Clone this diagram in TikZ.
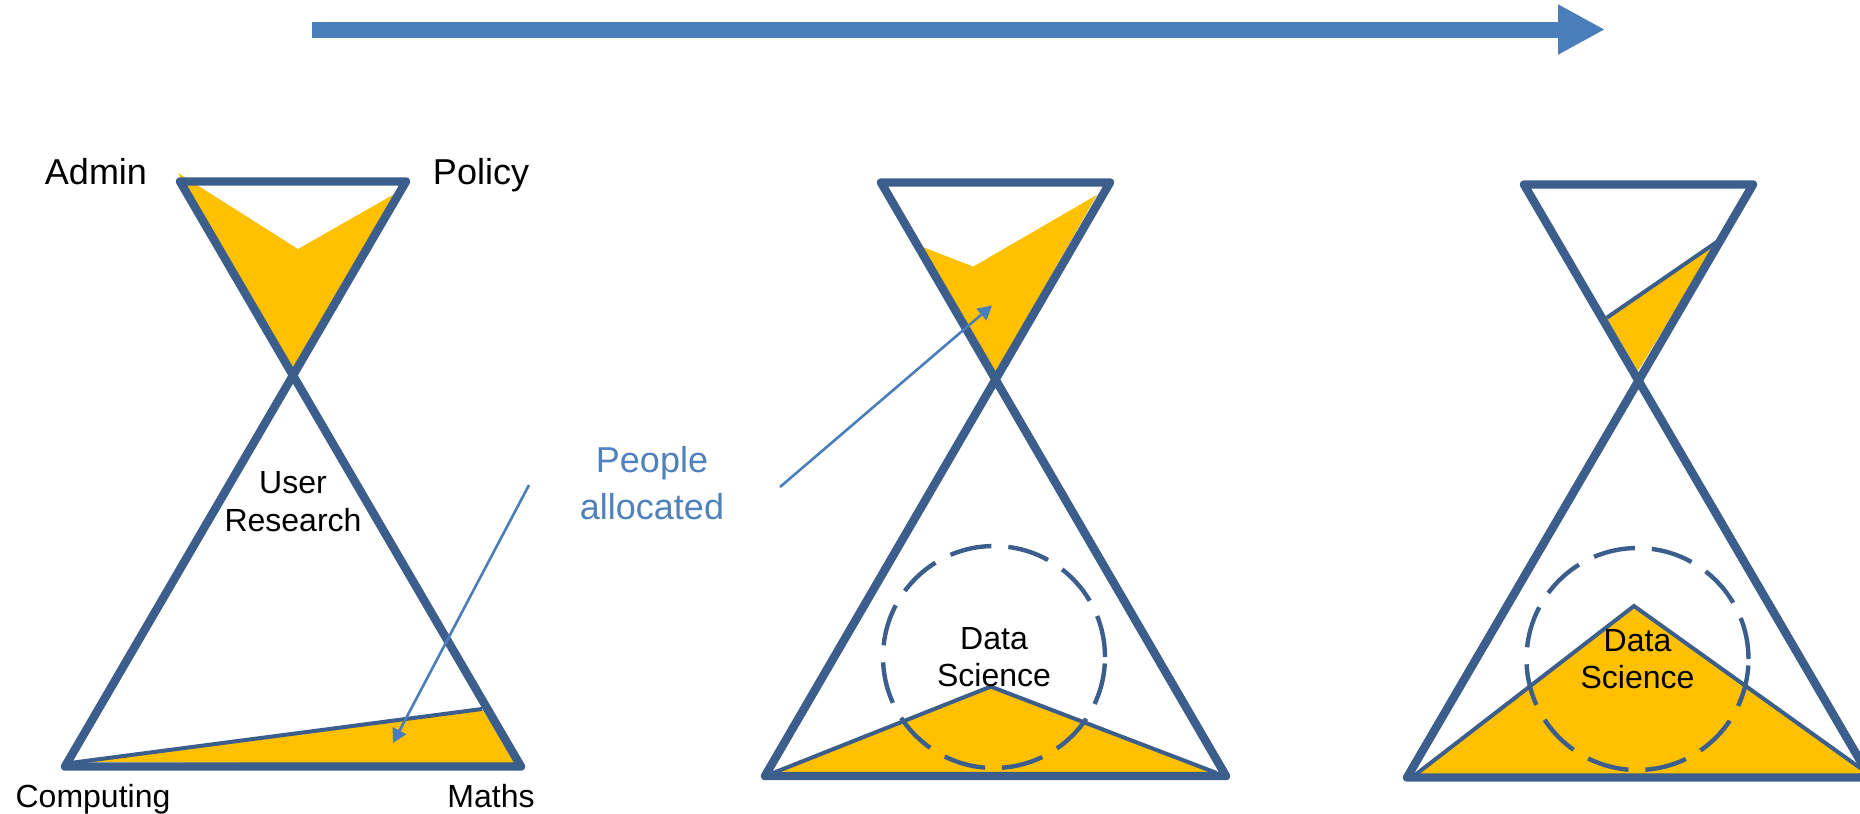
\documentclass[tikz,border=0pt]{standalone}
\usepackage{fontspec}
\setmainfont{Liberation Sans}
\usetikzlibrary{arrows.meta}
\definecolor{glassblue}{RGB}{59,94,140}
\definecolor{arrowblue}{RGB}{74,126,187}
\definecolor{textblue}{RGB}{79,129,189}
\definecolor{sand}{RGB}{255,192,0}
\tikzset{glass/.style={draw=glassblue,line width=4.2pt,line join=round,line cap=round},
	sandfill/.style={fill=sand,draw=none},
	sandline/.style={draw=glassblue,line width=2pt},
	zone/.style={circle,draw=glassblue,line width=2.2pt,dash pattern=on 21pt off 8.5pt,
		minimum size=111pt,inner sep=0pt,align=center,font=\fontsize{16}{18.5}\selectfont},
	cornertext/.style={font=\fontsize{18}{22}\selectfont,anchor=base,inner sep=0pt},
	basetext/.style={font=\fontsize{16}{19}\selectfont,anchor=base,inner sep=0pt},
	pointer/.style={draw=arrowblue,line width=1.3pt,-{Triangle[length=7pt,width=7.5pt]}},
	timeline/.style={draw=arrowblue,line width=8pt,-{Triangle[length=23.5pt,width=23.5pt]}}}

\begin{document}
\begin{tikzpicture}[x=0.5pt,y=-0.5pt]
\useasboundingbox (0,0) rectangle (1860,814);
\coordinate (start) at (312,29.5);
\coordinate (finish) at (1605,29.5);
\draw[timeline] (start) -- (finish);

\coordinate (ltl) at (180,181.5);
\coordinate (ltr) at (406,181.5);
\coordinate (lbl) at (65,766.5);
\coordinate (lbr) at (521,766.5);
\fill[sandfill] (178,173) -- (298,249) -- (398,192) -- (293,370) -- cycle;
\fill[sandfill] (72,762) -- (482,709) -- (519,764) -- cycle;
\draw[sandline] (70,763) -- (482,709);
\draw[glass] (ltl) -- (ltr) -- (lbl) -- (lbr) -- cycle;
\node[cornertext] (admin) at (96,184) {Admin};
\node[cornertext] (policy) at (481,184) {Policy};
\node[basetext] (computing) at (93,807) {Computing};
\node[basetext] (maths) at (491,807) {Maths};
\node[align=center,inner sep=0pt,font=\fontsize{16}{19}\selectfont] (user) at (293,502) {User\\Research};

\coordinate (mtl) at (881,182.5);
\coordinate (mtr) at (1110,182.5);
\coordinate (mbl) at (765,776);
\coordinate (mbr) at (1226,776);
\fill[sandfill] (920,246) -- (973.3,266.6) -- (1097,194.8) -- (995.5,373) -- cycle;
\fill[sandfill] (773,773) -- (990.7,686.6) -- (1216.7,773) -- cycle;
\draw[sandline] (773,773) -- (990.7,686.6) -- (1216.7,773);
\node[zone] (mdata) at (994,657) {Data\\Science};
\draw[glass] (mtl) -- (mtr) -- (mbl) -- (mbr) -- cycle;

\coordinate (rtl) at (1524,184.5);
\coordinate (rtr) at (1753,184.5);
\coordinate (rbl) at (1407,777.5);
\coordinate (rbr) at (1870,777.5);
\fill[sandfill] (1606.7,317.8) -- (1716.7,242) -- (1638,371) -- cycle;
\draw[sandline] (1606.7,317.8) -- (1716.7,242);
\fill[sandfill] (1415,775) -- (1634,606) -- (1870,775) -- cycle;
\draw[sandline] (1415,775) -- (1634,606) -- (1870,775);
\node[zone] (rdata) at (1637.5,659) {Data\\Science};
\draw[glass] (rtl) -- (rtr) -- (rbl) -- (rbr) -- cycle;

\node[align=center,inner sep=0pt,text=textblue,font=\fontsize{18}{23.5}\selectfont] (people) at (652,483.5) {People\\allocated};
\coordinate (pleft) at (529,485);
\coordinate (pright) at (780,487);
\coordinate (lsand) at (393,743);
\coordinate (msand) at (992,305.5);
\draw[pointer] (pleft) -- (lsand);
\draw[pointer] (pright) -- (msand);
\end{tikzpicture}
\end{document}
